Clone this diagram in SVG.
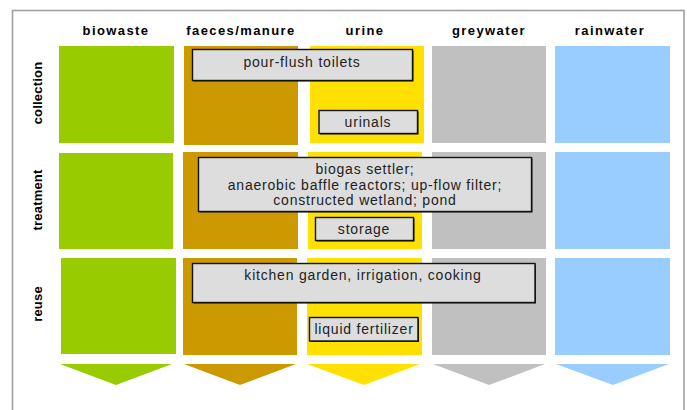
<svg xmlns="http://www.w3.org/2000/svg" width="687" height="410" viewBox="0 0 687 410">
<style>
.hd{font-family:"Liberation Sans",Arial,sans-serif;font-size:13px;font-weight:bold;letter-spacing:1.4px;text-anchor:middle;fill:#000}
.rl{font-family:"Liberation Sans",Arial,sans-serif;font-size:13px;font-weight:bold;letter-spacing:0.2px;text-anchor:middle;fill:#000}
.bx{fill:#DDDDDD;stroke:#111;stroke-width:1.4}
.sh{fill:#222}
.tx{font-family:"Liberation Sans",Arial,sans-serif;font-size:14px;letter-spacing:0.8px;text-anchor:middle;fill:#222}
.g{fill:#99CC00}.f{fill:#CC9900}.u{fill:#FFE000}.y{fill:#C0C0C0}.r{fill:#99CCFF}
</style>
<rect x="0" y="0" width="687" height="410" fill="#fff"/>
<rect x="12.5" y="10.5" width="671.5" height="420" fill="none" stroke="#A0A0A0" stroke-width="1.6"/>
<g id="headers">
<text class="hd" x="116" y="35">biowaste</text>
<text class="hd" x="241" y="35">faeces/manure</text>
<text class="hd" x="365" y="35">urine</text>
<text class="hd" x="489" y="35">greywater</text>
<text class="hd" x="610" y="35">rainwater</text>
</g>
<g id="row-labels">
<text class="rl" transform="translate(42,93) rotate(-90)">collection</text>
<text class="rl" transform="translate(42,200) rotate(-90)">treatment</text>
<text class="rl" transform="translate(42,304) rotate(-90)">reuse</text>
</g>
<g id="cells">
<rect class="g" x="59" y="46" width="115" height="97"/>
<rect class="f" x="184" y="46" width="114" height="99"/>
<rect class="u" x="310" y="46" width="114" height="97"/>
<rect class="y" x="432" y="46" width="114" height="97"/>
<rect class="r" x="555" y="46" width="115" height="97"/>
<rect class="g" x="59" y="153" width="114" height="96"/>
<rect class="f" x="183" y="152" width="115" height="97"/>
<rect class="u" x="308" y="152" width="114" height="97"/>
<rect class="y" x="432" y="152" width="114" height="97"/>
<rect class="r" x="555" y="152" width="115" height="97"/>
<rect class="g" x="61" y="258" width="115" height="96"/>
<rect class="f" x="183" y="258" width="114" height="97"/>
<rect class="u" x="307" y="258" width="115" height="97"/>
<rect class="y" x="432" y="258" width="114" height="97"/>
<rect class="r" x="555" y="258" width="115" height="97"/>
</g>
<g id="arrows">
<polygon class="g" points="60,364 172,364 116,385"/>
<polygon class="f" points="184,364 296,364 240,385"/>
<polygon class="u" points="307,364 420,364 364,385"/>
<polygon class="y" points="433,364 545,364 489,385"/>
<polygon class="r" points="556,364 669,364 613,385"/>
</g>
<g id="pour-flush-toilets">
<rect class="sh" x="193.5" y="50.5" width="220" height="31"/>
<rect class="bx" x="192.5" y="49.5" width="220" height="31"/>
<text class="tx" x="302" y="66.5">pour-flush toilets</text>
</g>
<g id="urinals">
<rect class="sh" x="320" y="111.5" width="98.5" height="23"/>
<rect class="bx" x="319" y="110.5" width="98.5" height="23"/>
<text class="tx" x="368" y="127">urinals</text>
</g>
<g id="treatment-box">
<rect class="sh" x="199.5" y="158.5" width="333" height="54"/>
<rect class="bx" x="198.5" y="157.5" width="333" height="54"/>
<text class="tx" x="365" y="174">biogas settler;</text>
<text class="tx" x="365" y="189.5">anaerobic baffle reactors; up-flow filter;</text>
<text class="tx" x="365" y="205">constructed wetland; pond</text>
</g>
<g id="storage">
<rect class="sh" x="316.5" y="218.5" width="98" height="23"/>
<rect class="bx" x="315.5" y="217.5" width="98" height="23"/>
<text class="tx" x="364" y="234">storage</text>
</g>
<g id="reuse-box">
<rect class="sh" x="193.5" y="264.5" width="342.5" height="39"/>
<rect class="bx" x="192.5" y="263.5" width="342.5" height="39"/>
<text class="tx" x="363" y="280">kitchen garden, irrigation, cooking</text>
</g>
<g id="liquid-fertilizer">
<rect class="sh" x="310.5" y="318.5" width="108.5" height="23.5"/>
<rect class="bx" x="309.5" y="317.5" width="108.5" height="23.5"/>
<text class="tx" x="364" y="334">liquid fertilizer</text>
</g>
</svg>
